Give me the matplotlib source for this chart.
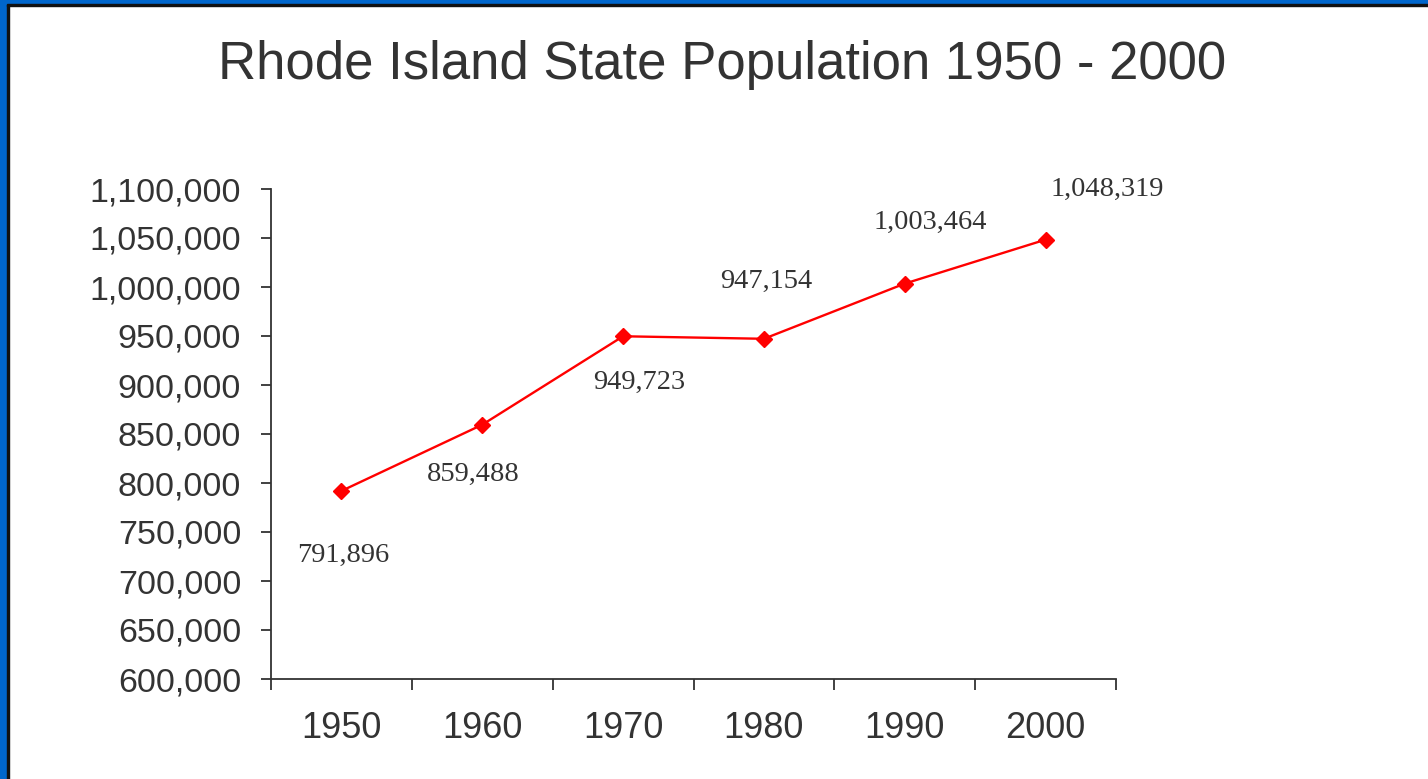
import matplotlib
matplotlib.use("Agg")
import matplotlib.pyplot as plt
from matplotlib.patches import Rectangle
from matplotlib.ticker import FuncFormatter

years = ["1950", "1960", "1970", "1980", "1990", "2000"]
population = [791896, 859488, 949723, 947154, 1003464, 1048319]
# where each value label sits relative to its point (pixels)
label_offsets = [(2, -64), (-9, -50), (16, -46), (2, 57), (26, 61), (62, 50)]

W, H = 1428, 779
fig = plt.figure(figsize=(W / 100, H / 100), dpi=100)
fig.patch.set_facecolor("white")

# blue frame on the left and top with a thin black inner line
fig.patches.append(Rectangle((0, 0), 7 / W, 1, transform=fig.transFigure, color="#0066CC", zorder=0))
fig.patches.append(Rectangle((7 / W, 0), 2 / W, 1 - 4 / H, transform=fig.transFigure, color="#111111", zorder=0))
fig.patches.append(Rectangle((0, 1 - 4 / H), 1, 4 / H, transform=fig.transFigure, color="#0066CC", zorder=0))
fig.patches.append(Rectangle((7 / W, 1 - 6 / H), 1, 2 / H, transform=fig.transFigure, color="#111111", zorder=0))

ax = fig.add_axes([271 / W, 100 / H, (1116 - 271) / W, (679 - 189) / H])

x = [i + 0.5 for i in range(len(years))]
ax.plot(x, population, color="#FF0000", lw=1.7, marker="D", ms=8, zorder=3)

for xi, v, (dx, dy) in zip(x, population, label_offsets):
    ax.annotate(f"{v:,}", (xi, v), xytext=(dx, dy), textcoords="offset pixels",
                ha="center", va="center", fontsize=20.5, color="#333333",
                family="Liberation Serif")

ax.set_xlim(0, len(years))
ax.set_ylim(600000, 1100000)
ax.set_yticks(range(600000, 1100001, 50000))
ax.yaxis.set_major_formatter(FuncFormatter(lambda v, p: f"{int(v):,}"))

ax.set_xticks(range(len(years) + 1))
ax.set_xticklabels([])
ax.set_xticks(x, minor=True)
ax.set_xticklabels(years, minor=True)

for s in ["top", "right"]:
    ax.spines[s].set_visible(False)
for s in ["left", "bottom"]:
    ax.spines[s].set_color("#333333")
    ax.spines[s].set_linewidth(1.3)

ax.tick_params(axis="y", length=7.5, width=1.3, color="#333333", pad=14,
               labelsize=24.5, labelcolor="#333333", labelfontfamily="Liberation Sans")
ax.tick_params(axis="x", which="major", length=8, width=1.3, color="#333333")
ax.tick_params(axis="x", which="minor", length=0, pad=23,
               labelsize=26, labelcolor="#333333", labelfontfamily="Liberation Sans")

fig.text(722 / W, 1 - 65 / H, "Rhode Island State Population 1950 - 2000",
         ha="center", va="center", fontsize=38, color="#333333", family="Liberation Sans")

fig.savefig("out.png", dpi=100)
